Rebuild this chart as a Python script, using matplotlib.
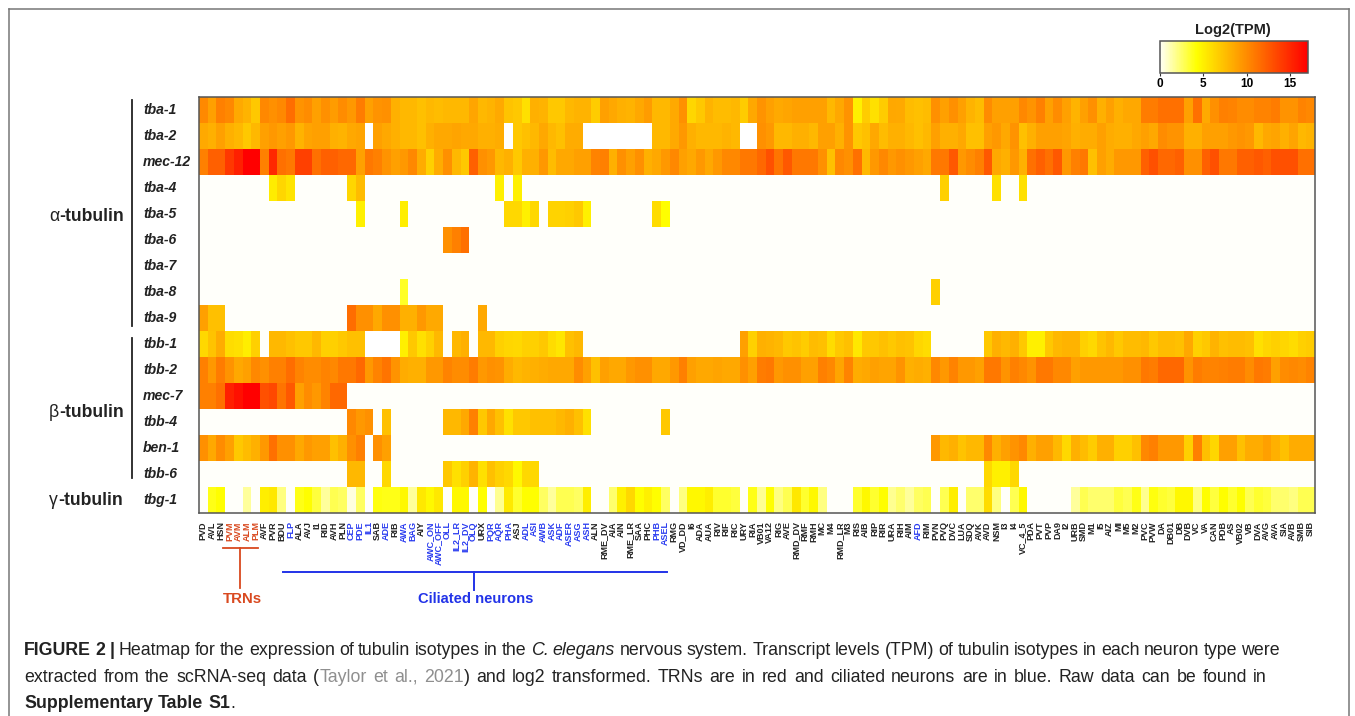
import matplotlib
matplotlib.use("Agg")
import matplotlib.pyplot as plt
from matplotlib.colors import LinearSegmentedColormap
import numpy as np

nan = float("nan")

neurons = ["PVD", "AVL", "HSN", "PVM", "AVM", "ALM", "PLM", "AVF", "PVR", "BDU", "FLP", "ALA", "AVJ", "I1", "RID", "AVH",
           "PLN", "CEP", "PDE", "IL1", "SAB", "ADE", "RIB", "AWA", "BAG", "AIY", "AWC_ON", "AWC_OFF", "OLL", "IL2_LR",
           "IL2_DV", "OLQ", "URX", "PQR", "AQR", "PHA", "ASJ", "ADL", "ASI", "AWB", "ASK", "ADF", "ASER", "ASG", "ASH",
           "ALN", "RME_DV", "AIA", "AIN", "RME_LR", "SAA", "PHC", "PHB", "ASEL", "RMG", "VD_DD", "I6", "ADA", "AUA",
           "RIV", "RIF", "RIC", "URY", "RIA", "VB01", "VA12", "RIG", "AVE", "RMD_DV", "RMF", "RMH", "MC", "M4", "RMD_LR",
           "M3", "RIS", "AIB", "RIP", "RIR", "URA", "RIH", "AIM", "AFD", "RIM", "PVN", "PVQ", "DVC", "LUA", "SDQ", "AVK",
           "AVD", "NSM", "I3", "I4", "VC_4_5", "PDA", "PVT", "PVP", "DA9", "I2", "URB", "SMD", "M1", "I5", "AIZ", "MI",
           "M5", "M2", "PVC", "PVW", "DA", "DB01", "DB", "DVB", "VC", "VA", "CAN", "PDB", "AS", "VB02", "VB", "DVA", "AVG",
           "AVA", "SIA", "AVB", "SMB", "SIB"]
trn_neurons = ["PVM", "AVM", "ALM", "PLM"]
ciliated_neurons = ["FLP", "CEP", "PDE", "IL1", "ADE", "AWA", "BAG", "AWC_ON", "AWC_OFF", "OLL", "IL2_LR", "IL2_DV", "OLQ",
                    "PQR", "AQR", "PHA", "ADL", "ASI", "AWB", "ASK", "ADF", "ASER", "ASG", "ASH", "PHB", "ASEL", "AFD"]
genes = ["tba-1", "tba-2", "mec-12", "tba-4", "tba-5", "tba-6", "tba-7", "tba-8", "tba-9",
         "tbb-1", "tbb-2", "mec-7", "tbb-4", "ben-1", "tbb-6", "tbg-1"]
cbar_ticks = [0, 5, 10, 15]

tba_1 = [10.1, 9, 10.6, 10.2, 8.5, 8, 7, 10.2, 9.8, 10.2, 11.5, 9.6, 10, 9, 9.8, 9.2, 10, 9.4, 10.8, 9, 9.6, 9.8, 8.2, 7.8,
         7.8, 7.4, 7.8, 7.6, 7.8, 7.8, 7.8, 8.75, 7.8, 8, 8.5, 7.2, 7, 5.8, 8.2, 8, 7, 7, 7.8, 8, 8,
         6.8, 9, 8.6, 8.2, 8, 8.6, 9.2, 7.8, 7.8, 8.5, 9.8, 6.3, 7, 8, 7.6, 7.6, 7.8, 6.8, 8.6, 9.6, 9, 8.5, 8.7, 9, 9, 9, 9,
         7.8, 8.6, 9.6, 5, 6.8, 5.8, 6.8, 8.6, 8.5, 7.6, 7.4, 7.6, 9.8, 9, 9.8,
         9, 8, 7.6, 10, 9, 9, 9, 10.2, 9.6, 10.6, 9, 10, 9, 8, 9, 9.8, 8.2, 9, 8.2, 8.6, 8.6, 10.8, 10.8, 11.4, 11.4, 11.4,
         9, 11.4, 8.5, 9.8, 10.6, 10.4, 10, 10, 10.4, 10.4, 10.8, 9.6, 9.6, 10.4, 10.2]
tba_2 = [8.5, 8.2, 9, 8.2, 7.8, 7, 7.8, 9, 9.4, 9, 9.4, 8, 8.8, 9, 9, 8.2, 8, 8.6, 8.8, nan, 9, 8.6, 8.2, 7.8, 7.8, 7.4, 8.2,
         8.6, 8.6, 8.8, 8.6, 8.6, 8.2, 8.2, 8.4, nan, 7, 7.4, 7.8, 8.6, 7.8, 7.4, 8.4, 8.4,
         nan, nan, nan, nan, nan, nan, nan, nan,
         7.8, 7.8, 8.5, 9.4, 8.2, 7.8, 7.8, 7.8, 8, 7.8, nan, nan, 9.8, 9.4, 7.8, 7.8, 8.2, 8.2, 7.8, 9, 9, 8.2, 9.6, 7, 7.4,
         8.6, 7.6, 8.2, 8.2, 7.8, 7.4, 7.8, 9, 8.2, 8.2,
         8.6, 7.4, 7.4, 9, 9.4, 8.6, 9.6, 7.4, 8.2, 9, 9, 9, 8.8, 8.2, 8.4, 8.4, 9, 8.4, 8.2, 8.2, 8.6, 9, 8.6, 10, 9.6, 9.6,
         8.2, 8.2, 9, 9, 9, 9.4, 9.6, 9.4, 7.8, 8.6, 8.8, 8.2, 8.8, 7.8, 8]
mec_12 = [10.6, 12.2, 12.2, 14.2, 15.4, 17, 17, 10.6, 15, 11.4, 11, 13.8, 13.8, 11.4, 12.2, 12.2, 11.8, 11.8, 9, 11, 10.6, 9.6,
          9, 9.4, 10.2, 8.4, 6.6, 8.4, 9.8, 7.8, 7, 12.2, 9.8, 9.4, 7.8, 8.2, 7, 8.2, 8.2, 9.4, 7.6, 8.6, 8.6, 9, 9,
          10.4, 10.6, 8.2, 9.8, 9, 9.8, 8.2, 8.6, 9.4, 10.2, 9, 8.6, 9.4, 8.6, 9.4, 10.2, 10.2, 11, 11, 11.8, 13, 11.2, 12.6,
          11, 11, 11, 9.8, 7.4, 10.2, 9.8, 11.4, 7.8, 9.4, 10.2, 9.4, 9.8, 9.4, 9, 8.6, 11, 11, 12.6,
          9.4, 10, 10.6, 12.6, 8.6, 8.2, 9.4, 8.2, 11.4, 12.2, 11.4, 12.6, 9.4, 10.6, 11, 7.4, 9, 8.4, 9.4, 9.4, 9.4, 12.2, 13,
          11.8, 11.8, 12.2, 9.8, 9.8, 12.2, 13, 11, 11, 12.2, 12.2, 12.6, 12.2, 13, 13, 13, 11.4, 11.4]
tba_4 = [0] * 8 + [5.2, 6.3, 5.6] + [0] * 6 + [6.3, 7.6] + [0] * 15 + [5, 0, 5] + [0] * 48 + [6.6] + [0] * 5 + [5.8, 0, 0, 5.8] + [0] * 33
tba_5 = [0] * 18 + [5] + [0] * 4 + [5.1] + [0] * 11 + [6.2, 6.2, 5, 6.2, 0, 6.4, 6.4, 6.6, 7, 5] + [0] * 7 + [6, 4.3] + [0] * 74
tba_6 = [0] * 28 + [9.8, 10.6, 11.4] + [0] * 97
tba_7 = [0] * 128
tba_8 = [0] * 23 + [3.6] + [0] * 60 + [6.6] + [0] * 43
tba_9 = [9, 7.4, 7.4] + [0] * 14 + [11.5, 9.8, 9.8, 8.6, 9.8, 9.8, 8.2, 8.2, 9.4, 8.5, 8.5] + [0] * 4 + [8.6] + [0] * 95
tbb_1 = [6.2, 7.2, 8.4, 6, 5.8, 5.1, 6.6, 0, 7.8, 7.8, 7.4, 7, 7, 7.8, 6.6, 6.6, 7, 7.4, 7.4, nan, nan, nan, nan, 5, 7, 5.8, 6.6,
         7.8, 0, 7.8, 8.2, 0, 7.8, 7.8, 6.6, 6.3, 6.2, 6.6, 6.6, 7, 6, 5.5, 7.4, 7.8] + [0] * 18 + [
         9, 6.6, 8.2, 8, 7.8, 7, 7.2, 6.8, 7.6, 7.4, 6, 7, 7.4, 5.4, 7, 7, 7.4, 7, 7.4, 7.2, 6.3, 6] + [0] * 6 + [
         7, 8.2, 7.8, 8.2, 7, 5, 5, 7, 7.8, 8, 8, 6.6, 6.2, 7.2, 7.8, 7, 7.6, 7.6, 7.8, 7, 7.6, 7.6, 7.4, 8.6, 6.6, 7, 8, 7.4,
         7.6, 7.6, 7.4, 5.8, 6.3, 6.6, 6.3, 6, 6.6, 6.8]
tbb_2 = [10.6, 9.4, 10.8, 9.6, 8.6, 9, 10.2, 9.8, 10.6, 10.6, 11.5, 10.4, 10, 10, 10.4, 10.2, 11, 11, 11.8, 9.4, 10.4, 11.2, 9.6,
         8.4, 8.2, 8.2, 9.4, 9.4, 10.4, 10, 10, 10.8, 9.4, 9.8, 9.6, 8.4, 7.8, 8, 8.2, 8.4, 8.6, 8.6, 8.6, 10, 9,
         7.4, 9, 8.6, 8.6, 9.4, 9.8, 9.8, 8.6, 8.6, 9.4, 10.6, 9, 8.6, 8.6, 8.8, 8.6, 8.6, 9.8, 9, 10.8, 11, 9.4, 9.8, 9.8, 9,
         9, 10.6, 10.2, 8.8, 10.4, 8.4, 8.6, 9, 8.8, 8.8, 9.6, 8.2, 8.4, 8.2, 10.2, 9.4, 10.4,
         9.4, 9.4, 9, 11, 11, 9.6, 10.6, 10.2, 9.6, 11, 11, 10.2, 10.2, 9, 9.4, 9.4, 9.4, 9.4, 9.4, 9.8, 9.8, 11, 10.8, 11.8,
         11.8, 11.8, 9.6, 10.8, 10.4, 10.4, 10.6, 10.8, 10.8, 10, 11, 10.8, 9, 10, 10.2, 10, 10.4]
mec_7 = [10.6, 10.6, 11.4, 15.4, 16.2, 17, 17, 13, 13.4, 11.2, 12.6, 9, 10, 9.4, 10.4, 11.8, 11.8] + [0] * 111
tbb_4 = [0] * 17 + [10.2, 9.4, 9.8, 0, 7.4] + [0] * 6 + [7.8, 7.8, 8.6, 10.6, 7, 8.6, 7.4, 5.8, 7, 7, 7.4, 7.4, 7.4, 7.8, 8.2, 7.4, 5.8] + [0] * 8 + [7] + [0] * 74
ben_1 = [9.8, 8.6, 10, 9, 7, 7.6, 8.2, 9.4, 11.4, 9.8, 9.8, 8.6, 9.4, 9, 9, 7.4, 8.2, 9.8, 10.6, 0, 9.8, 9] + [0] * 62 + [
         9.4, 7.8, 8.2, 7.2, 7.8, 7.8, 10.2, 8.2, 9, 9.6, 10.2, 8.2, 9, 9, 7.8, 6.2, 8.2, 7.6, 6.8, 8.2, 8.2, 6.6, 6.6, 7.4,
         10.2, 10.6, 9.4, 9.4, 9.4, 6.6, 10.6, 7.4, 6.3, 9, 9, 7.4, 8.4, 8.4, 9, 8.2, 7.4, 8.4, 8.4, 8.4]
tbb_6 = [0] * 17 + [7.8, 7.8, 0, 0, 6.2] + [0] * 6 + [7, 5.8, 6.6, 8, 5.8, 7.4, 6.6, 6.2, 4.6, 6.2, 6.2] + [0] * 51 + [6.2, 5, 5, 6.2] + [0] * 34
tbg_1 = [0, 3.9, 4.3, 0, 0, 1.6, 0, 5.1, 5.4, 2.1, 0, 3.9, 4.3, 3.2, 1.6, 2.9, 2.6, 0.5, 2.6, 0, 4, 3.9, 3.9, 4.6, 1.6, 5.4, 4.6,
         5.4, 0, 4.6, 4.6, 0, 4.3, 0, 1.8, 5.3, 3.5, 4.3, 4.3, 2.6, 1.6, 2.9, 2.9, 2.6, 5.1,
         0, 0, 2.4, 5, 6.2, 4.3, 5, 4.3, 2.6, 0, 2.1, 4.6, 4.6, 5.1, 3.5, 3.5, 3.2, 0, 3.9, 1.8, 4.3, 2.1, 2.9, 5.4, 3.5, 4.6,
         2.1, 0, 0, 0, 3.5, 4.6, 3.5, 4.3, 1.8, 2.4, 1.6, 2.6, 2.9, 0, 2.9, 5.1, 0, 2.4, 2.4, 6, 2.1, 0, 2.9, 4.6, 0, 0, 0, 0, 0,
         1.6, 2.9, 2.4, 2.4, 2.4, 3.2, 2.9, 3.9, 1.8, 4, 3.5, 3.2, 4.6, 4.6, 2.1, 4.3, 3.2, 4.3, 3.5, 4.3, 2.9, 3.5, 3.2, 2.4,
         2.4, 2.1, 2.9, 2.9]

rows = [tba_1, tba_2, mec_12, tba_4, tba_5, tba_6, tba_7, tba_8, tba_9, tbb_1, tbb_2, mec_7, tbb_4, ben_1, tbb_6, tbg_1]
for g, r in zip(genes, rows):
    assert len(r) == len(neurons), (g, len(r))
expr = np.array(rows, dtype=float)

W, H = 1355, 716
plt.rcParams["font.family"] = ["Liberation Sans", "DejaVu Sans"]
fig = plt.figure(figsize=(W / 100, H / 100), dpi=100, facecolor="white")


def px_axes(x0, y0, x1, y1):
    return fig.add_axes([x0 / W, 1 - y1 / H, (x1 - x0) / W, (y1 - y0) / H])


cmap = LinearSegmentedColormap.from_list("tpm", [(0, "#fffffa"), (4.25 / 17, "#ffff00"), (1, "#ff0000")])
cmap.set_bad("white")

# main heatmap
ax = px_axes(199, 97, 1314.5, 513)
im = ax.imshow(expr, cmap=cmap, vmin=0, vmax=17, aspect="auto", interpolation="nearest")
ax.set_xticks(range(len(neurons)))
ax.set_xticklabels(neurons, rotation=90, fontsize=6.5, fontweight="bold")
ax.tick_params(axis="x", length=0, pad=6)
ax.set_yticks([])
for lab, name in zip(ax.get_xticklabels(), neurons):
    if name in trn_neurons:
        lab.set_color("#d9491f")
    elif name in ciliated_neurons:
        lab.set_color("#2a3cf0")
    else:
        lab.set_color("#222222")
for s in ax.spines.values():
    s.set_color("#555555")
    s.set_linewidth(1.1)

# colour scale
cax = px_axes(1159.5, 41, 1307.5, 73)
cb = fig.colorbar(im, cax=cax, orientation="horizontal", ticks=cbar_ticks)
cb.ax.tick_params(length=2.5, width=0.8, labelsize=8.5, pad=1, color="#333333")
for lab in cb.ax.get_xticklabels():
    lab.set_fontweight("bold")
cb.outline.set_edgecolor("#555555")
cb.outline.set_linewidth(1.1)

# overlay in picture pixels for frame, brackets, labels
ov = fig.add_axes([0, 0, 1, 1], facecolor="none")
ov.set_xlim(0, W)
ov.set_ylim(H, 0)
ov.axis("off")
ov.plot([9, 9], [H, 8.5], color="#777777", lw=1.1)
ov.plot([9, 1349], [8.5, 8.5], color="#777777", lw=1.1)
ov.plot([1349, 1349], [8.5, H], color="#777777", lw=1.1)

ov.text(1233, 30, "Log2(TPM)", ha="center", va="center", fontsize=10.5, fontweight="bold", color="#222222")

for i, g in enumerate(genes):
    ov.text(143, 97 + 26 * (i + 0.5), g, ha="left", va="center", fontsize=10.1, fontweight="bold", fontstyle="italic", color="#222222")

ov.plot([131.5, 131.5], [100, 326], color="#222222", lw=1.3)
ov.plot([131.5, 131.5], [338, 478], color="#222222", lw=1.3)


def runs(x, y, parts, fontsize, x_end=None, color="#222222"):
    # parts are (text, weight, style, colour), set word by word and stretched to x_end
    r = fig.canvas.get_renderer()
    items = []
    pending = False
    for txt, weight, style, col in parts:
        for j, w in enumerate(txt.split(" ")):
            if j > 0:
                pending = True
            if w:
                t = ov.text(x, y, w, ha="left", va="baseline", fontsize=fontsize, fontweight=weight, fontstyle=style, color=col or color)
                items.append((t, t.get_window_extent(r).width, pending))
                pending = False
    gap = fontsize * 100 / 72 * 0.278
    n_gaps = sum(1 for it in items if it[2])
    if x_end is not None:
        gap = (x_end - x - sum(it[1] for it in items)) / n_gaps
    for t, width, before in items:
        if before:
            x += gap
        t.set_x(x)
        x += width


runs(49, 221, [("α", "normal", "normal", None), ("-tubulin", "bold", "normal", None)], 12.7)
runs(49, 417, [("β", "normal", "normal", None), ("-tubulin", "bold", "normal", None)], 12.7)
runs(49, 505, [("γ", "normal", "normal", None), ("-tubulin", "bold", "normal", None)], 12.7)

red = "#d9491f"
blue = "#2233e8"
ov.plot([223, 258], [547.5, 547.5], color=red, lw=1.3)
ov.plot([240, 240], [547.5, 588], color=red, lw=1.3)
ov.text(242, 599, "TRNs", ha="center", va="center", fontsize=10.8, fontweight="bold", color=red)
ov.plot([283, 667], [572, 572], color=blue, lw=1.4)
ov.plot([473.7, 473.7], [572, 590], color=blue, lw=1.4)
ov.text(475.5, 599, "Ciliated neurons", ha="center", va="center", fontsize=10.6, fontweight="bold", color=blue)

# caption
runs(24, 655, [("FIGURE 2 | ", "bold", "normal", None),
               ("Heatmap for the expression of tubulin isotypes in the ", "normal", "normal", None),
               ("C. elegans", "normal", "italic", None),
               (" nervous system. Transcript levels (TPM) of tubulin isotypes in each neuron type were", "normal", "normal", None)], 12.8, x_end=1280)
runs(24, 682, [("extracted from the scRNA-seq data (", "normal", "normal", None),
               ("Taylor et al., 2021", "normal", "normal", "#8f8f8f"),
               (") and log2 transformed. TRNs are in red and ciliated neurons are in blue. Raw data can be found in", "normal", "normal", None)], 12.8, x_end=1267)
runs(24, 708, [("Supplementary Table S1", "bold", "normal", None), (".", "normal", "normal", None)], 12.8)

fig.savefig("out.png", dpi=100, facecolor="white")
